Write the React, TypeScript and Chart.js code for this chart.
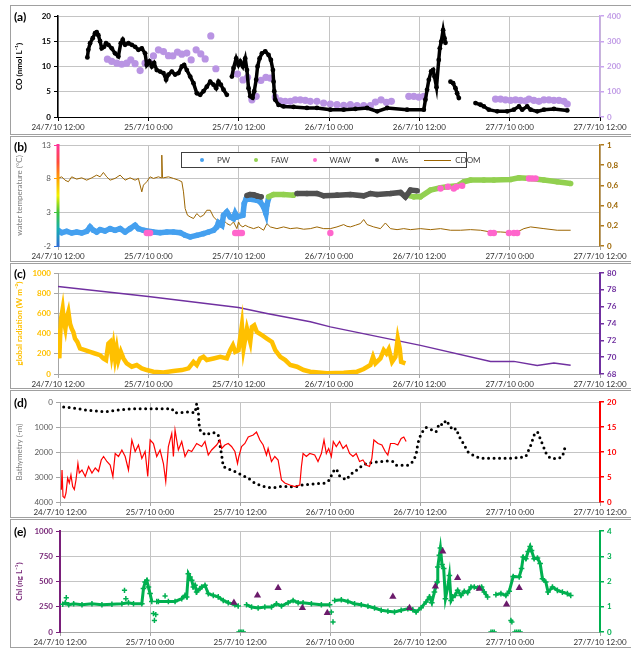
import React, { useEffect, useRef } from "react";
import { Chart, registerables } from "chart.js";
Chart.register(...registerables);

const FONT = "Lato, 'Open Sans', 'Liberation Sans', sans-serif";
const GRID = "#c4c4c4";

// ---------- shared x axis ----------
const tickHours = [0, 12, 24, 36, 48, 60, 72];
const tickLabels = ["24/7/10 12:00", "25/7/10 0:00", "25/7/10 12:00", "26/7/10 0:00", "26/7/10 12:00", "27/7/10 0:00", "27/7/10 12:00"];

// ---------- (a) CO ----------
const coTicks = [0, 5, 10, 15, 20];
const coRightTicks = [0, 100, 200, 300, 400];
const coTimes = [3.9, 4.03, 4.26, 4.61, 4.92, 5.14, 5.36, 5.59, 5.81, 6.12, 6.38, 6.69, 7.14, 7.58, 8.02, 8.34, 8.6, 8.91, 9.35, 9.8, 10.24, 10.68, 11.13, 11.57, 11.79, 12.14, 12.46, 12.77, 13.12, 13.57, 14.01, 14.36, 14.67, 15.12, 15.56, 16.0, 16.45, 16.76, 17.11, 17.56, 18.0, 18.44, 18.89, 19.33, 19.77, 20.22, 20.66, 21.01, 21.32, 21.63, 21.99, 22.43, 22.8, 23.1, 23.32, 23.67, 23.98, 24.21, 24.56, 24.87, 25.1, 25.31, 25.54, 25.85, 26.07, 26.33, 26.51, 26.78, 27.09, 27.53, 27.97, 28.28, 28.55, 28.64, 28.73, 28.86, 29.3, 29.96, 31.29, 33.07, 34.4, 36.18, 37.95, 39.5, 41.06, 42.4, 43.73, 46.37, 48.59, 48.81, 49.03, 49.26, 49.57, 49.83, 50.01, 50.28, 50.58, 50.72, 50.9, 51.16, 51.34, 51.47, 51.9, 52.14, 52.49, 52.8, 53.02, 53.25, 54.3, 55.46, 56.13, 56.57, 57.23, 58.34, 59.67, 60.56, 61.23, 61.67, 62.33, 62.78, 63.66, 64.55, 65.88, 67.65];
const coValues = [11.8, 13.3, 14.6, 15.6, 16.6, 16.8, 16.2, 15.0, 13.6, 13.9, 14.6, 14.3, 13.6, 12.6, 12.0, 14.6, 15.3, 14.3, 14.6, 14.3, 13.9, 13.3, 13.6, 12.6, 10.3, 11.0, 10.0, 10.7, 9.3, 9.0, 8.7, 7.4, 8.4, 9.0, 8.4, 8.7, 10.0, 10.3, 9.3, 8.0, 6.7, 4.7, 4.4, 5.1, 6.0, 7.0, 6.4, 5.7, 7.0, 6.4, 5.4, 4.4, null, 8.0, 9.7, 11.6, 10.3, 11.0, 10.0, 11.6, 9.3, 5.7, 4.1, 3.8, 5.1, 7.4, 10.0, 11.6, 12.6, 13.0, 12.3, 11.3, 9.3, 7.0, 5.1, 3.4, 2.4, 2.1, 2.0, 1.8, 1.8, 1.45, 1.45, 1.6, 1.78, 1.12, 1.78, 1.45, 1.45, 3.42, 5.39, 7.37, 9.01, 9.34, 8.03, 5.9, 11.3, 13.6, 14.9, 17.2, 15.6, 14.7, null, 7.0, 6.7, 5.7, 4.7, 3.75, null, 2.76, 2.43, 2.1, 1.45, 1.12, 1.12, 1.45, 2.1, 1.45, 2.1, 1.45, 1.12, 1.45, 1.6, 1.3];
const purpleTimes = [6.57, 7.14, 7.81, 8.47, 9.13, 9.67, 10.24, 10.91, 11.57, 12.14, 12.68, 13.34, 14.01, 14.67, 15.25, 15.87, 16.45, 17.11, 17.69, 18.35, 18.97, 19.55, 20.3, 20.97, 23.85, 24.56, 25.18, 25.76, 26.33, 26.95, 27.62, 28.2, 28.86, 29.53, 30.19, 30.86, 31.52, 32.19, 32.85, 33.52, 34.4, 35.29, 36.18, 37.06, 37.95, 38.84, 39.72, 40.61, 41.5, 42.16, 42.92, 43.63, 44.29, 46.6, 47.27, 47.93, 48.59, 58.12, 58.79, 59.45, 60.12, 60.78, 61.45, 62.11, 62.56, 63.22, 63.89, 64.55, 65.22, 65.88, 66.55, 67.21, 67.65];
const purpleValues = [229, 220, 213, 209, 213, 226, 211, 184, 213, 216, 242, 266, 259, 243, 242, 257, 249, 253, 226, 266, 250, 230, 321, 191, 170, 147, 157, 68, 82, 145, 157, 154, 79, 64, 62, 62, 68, 68, 66, 62, 62, 55, 51, 49, 46, 49, 45, 45, 45, 59, 68, 58, 62, 82, 82, 79, 82, 71, 71, 68, 66, 68, 66, 64, 71, 66, 62, 68, 68, 66, 66, 62, 51];

// ---------- (b) water temperature ----------
const tempTicks = [-2, 3, 8, 13];
const cdomTicks = [0, 0.2, 0.4, 0.6, 0.8, 1];
const pwTimes = [0.0, 0.49, 1.15, 1.82, 2.48, 3.15, 3.81, 4.26, 4.7, 5.14, 5.59, 6.25, 6.92, 7.58, 8.25, 8.91, 9.58, 10.24, 10.68, 11.35, 12.68, 13.57, 14.45, 15.34, 16.23, 16.89, 17.56, 18.44, 19.33, 19.99, 20.66, 21.1, 21.32, 21.77, 21.99, 22.43, 22.87, 23.32, 23.54, 23.76, 24.56, 24.74, 25.01, 26.42, 26.87, 27.31, 27.62, 27.75, 27.97];
const pwValues = [0.33, -0.02, 0.18, -0.07, 0.08, -0.07, 0.18, 0.83, 0.33, 0.08, 0.43, 0.23, 0.58, 0.33, 0.58, 0.08, 0.58, 1.08, 0.58, 0.33, 0.08, -0.02, 0.08, 0.08, -0.02, -0.41, -0.66, -0.41, -0.16, 0.08, 0.33, 0.83, 1.47, 1.08, 2.57, 3.06, 2.32, 2.07, 2.82, 2.32, 2.57, 4.31, 5.05, 4.8, 4.55, 3.81, 2.82, 4.06, 5.05];
const awTimes = [25.1, 25.5, 26.0, 26.5, 27.0, 29.0, 31.75, 33.07, 34.4, 35.29, 37.06, 38.84, 40.61, 41.5, 42.38, 44.16, 45.49, 46.15, 46.82, 47.71];
const awValues = [5.5, 5.65, 5.6, 5.4, 5.3, null, 5.8, 5.8, 5.8, 5.45, 5.55, 5.65, 5.45, 5.8, 5.65, 5.8, 5.95, 5.3, 6.3, 6.2];
const fawTimes = [27.97, 28.64, 29.96, 31.29, 31.5, 46.37, 47.26, 48.15, 49.48, 50.81, 51.7, 53.03, 53.91, 54.8, 56.57, 57.9, 60.12, 61.23, 62.78, 64.55, 66.32, 68.1];
const fawValues = [5.3, 5.65, 5.65, 5.55, null, 5.55, 5.3, 5.3, 6.3, 6.64, 6.79, 6.94, 7.54, 7.8, 7.8, 7.8, 7.88, 8.13, 8.03, 7.8, 7.54, 7.29];
const wawTimes = [11.79, 12.01, 12.24, 23.54, 23.76, 23.98, 24.21, 24.43, 36.18, 50.81, 51.79, 52.58, 52.94, 53.69, 57.46, 57.9, 59.9, 60.56, 61.0, 62.56, 63.0, 63.44];
const wawValues = [-0.06, -0.06, -0.06, -0.06, -0.06, -0.06, -0.06, -0.06, -0.07, 6.54, 6.79, 6.54, 6.79, 6.94, -0.06, -0.06, -0.06, -0.06, -0.06, 8.03, 8.03, 8.03];
const cdomTimes = [0.0, 0.49, 0.93, 1.38, 1.82, 2.48, 3.15, 3.81, 4.48, 5.14, 5.59, 6.03, 6.47, 6.92, 7.58, 8.25, 8.91, 9.58, 10.24, 10.68, 11.13, 11.35, 11.79, 12.24, 12.68, 13.34, 13.7, 13.79, 13.88, 14.01, 14.67, 15.34, 16.0, 16.45, 16.67, 16.89, 17.2, 17.56, 18.0, 18.44, 18.89, 19.33, 19.77, 20.22, 20.66, 21.1, 21.55, 21.99, 22.43, 22.87, 23.32, 23.76, 23.98, 24.21, 24.56, 24.87, 25.31, 25.98, 26.65, 27.31, 27.75, 28.2, 29.08, 29.97, 30.86, 31.75, 32.63, 33.52, 34.4, 35.29, 36.18, 37.06, 37.95, 38.39, 38.84, 39.5, 40.17, 40.61, 41.06, 41.94, 42.83, 43.49, 44.16, 45.04, 45.93, 46.82, 48.15, 49.48, 50.81, 52.14, 53.47, 54.8, 56.13, 57.46, 58.79, 60.12, 61.0, 61.89, 62.78, 64.55, 66.32, 68.1];
const cdomValues = [0.669, 0.685, 0.652, 0.636, 0.685, 0.662, 0.675, 0.652, 0.675, 0.702, 0.685, 0.728, 0.685, 0.652, 0.669, 0.702, 0.652, 0.675, 0.652, 0.669, 0.536, 0.603, 0.636, 0.685, 0.669, 0.685, 0.675, 0.9, 0.675, 0.675, 0.685, 0.669, 0.652, 0.636, 0.536, 0.371, 0.305, 0.288, 0.272, 0.321, 0.288, 0.305, 0.354, 0.354, 0.288, 0.255, 0.238, 0.255, 0.222, 0.205, 0.238, 0.172, 0.238, 0.205, 0.189, 0.205, 0.189, 0.172, 0.189, 0.156, 0.222, 0.189, 0.172, 0.189, 0.172, 0.179, 0.166, 0.172, 0.189, 0.172, 0.172, 0.189, 0.212, 0.195, 0.189, 0.205, 0.222, 0.262, 0.212, 0.189, 0.172, 0.228, 0.172, 0.162, 0.172, 0.162, 0.172, 0.162, 0.172, 0.156, 0.156, 0.162, 0.156, 0.139, 0.139, 0.132, 0.139, 0.172, 0.189, 0.172, 0.156, 0.156];

// ---------- (c) global radiation ----------
const radTicks = [0, 200, 400, 600, 800, 1000];
const latTicks = [68, 70, 72, 74, 76, 78, 80];
const radTimes = [0.04, 0.18, 0.27, 0.4, 0.62, 0.8, 0.98, 1.15, 1.38, 1.6, 1.82, 2.04, 2.26, 2.57, 2.93, 3.6, 4.26, 4.92, 5.59, 6.03, 6.38, 6.69, 6.92, 7.14, 7.36, 7.58, 7.8, 8.02, 8.34, 8.69, 9.13, 9.8, 10.46, 11.13, 11.79, 12.68, 14.01, 15.34, 16.45, 17.34, 18.0, 18.44, 18.89, 19.33, 19.77, 20.66, 21.55, 22.43, 22.87, 23.23, 23.54, 23.98, 24.43, 24.65, 25.1, 25.54, 25.76, 26.07, 26.42, 27.09, 27.75, 28.42, 28.86, 29.53, 30.19, 30.86, 31.75, 32.63, 33.52, 35.73, 37.95, 39.72, 40.61, 41.5, 41.85, 42.16, 42.83, 43.27, 43.63, 43.94, 44.38, 44.82, 45.13, 45.4, 45.58, 46.15];
const radValues = [449, 154, 351, 548, 646, 515, 449, 548, 613, 498, 449, 416, 351, 318, 252, 236, 220, 203, 187, 154, 138, 302, 318, 187, 285, 154, 252, 138, 220, 154, 105, 72, 89, 56, 39, 23, 16, 30, 39, 56, 121, 89, 154, 170, 138, 154, 170, 154, 236, 285, 220, 236, 482, 252, 449, 318, 466, 482, 416, 384, 351, 318, 236, 170, 138, 89, 72, 39, 23, 7, 13, 23, 49, 89, 170, 105, 154, 236, 203, 246, 121, 170, 351, 252, 121, 105];
const latTimes = [0, 12.0, 23.98, 27.75, 33.52, 36.18, 48.15, 57.46, 60.56, 63.66, 65.88, 68.1];
const latValues = [78.4, 77.2, 75.9, 75.2, 74.2, 73.6, 71.4, 69.5, 69.5, 69.0, 69.3, 69.05];

// ---------- (d) bathymetry ----------
const bathyTicks = [0, 1000, 2000, 3000, 4000];
const redTicks = [0, 5, 10, 15, 20];
const bathyTimes = [0.49, 1.38, 2.49, 3.6, 4.7, 6.03, 7.36, 8.69, 10.02, 11.79, 13.57, 14.9, 15.34, 16.23, 17.11, 18.0, 18.22, 18.44, 18.53, 18.75, 19.11, 19.55, 19.99, 20.66, 21.1, 21.55, 21.77, 22.43, 23.32, 24.21, 25.1, 25.98, 26.87, 27.75, 28.64, 29.53, 30.42, 31.3, 32.19, 33.52, 34.4, 35.29, 35.95, 36.4, 36.84, 37.28, 37.73, 38.17, 38.61, 39.06, 39.72, 40.39, 41.05, 41.94, 42.83, 43.71, 44.38, 44.82, 45.49, 46.38, 47.04, 47.48, 47.71, 48.15, 48.81, 49.48, 50.14, 50.58, 51.03, 51.47, 51.92, 52.36, 52.8, 53.25, 53.91, 54.35, 55.24, 56.13, 57.01, 58.34, 59.67, 61.0, 62.11, 62.78, 63.22, 63.66, 64.11, 64.55, 64.91, 65.44, 66.32, 66.99, 67.3, 67.65];
const bathyValues = [199, 225, 265, 331, 358, 397, 331, 291, 265, 265, 265, 265, 437, 424, 397, 437, 66, 331, 861, 1192, 1258, 1325, 1232, 1232, 1325, 2119, 2583, 2675, 2781, 2914, 3046, 3245, 3351, 3417, 3417, 3377, 3377, 3400, 3325, 3285, 3258, 3245, 3113, 2781, 2675, 2954, 3046, 3113, 2954, 2821, 2689, 2517, 2450, 2411, 2384, 2358, 2384, 2530, 2530, 2530, 2384, 2119, 1656, 1258, 1020, 1099, 1192, 861, 927, 728, 927, 1126, 1060, 1391, 1722, 1987, 2159, 2252, 2252, 2252, 2252, 2230, 2185, 1722, 1325, 1192, 1523, 1854, 2119, 2252, 2265, 2185, 1854, 1788];
const redTimes = [0.18, 0.27, 0.4, 0.62, 0.8, 1.02, 1.24, 1.46, 1.69, 1.91, 2.13, 2.39, 2.57, 2.93, 3.37, 3.81, 4.26, 4.7, 5.14, 5.5, 5.81, 6.25, 6.69, 7.05, 7.36, 7.8, 8.25, 8.69, 9.13, 9.58, 10.02, 10.46, 10.91, 11.35, 11.7, 12.02, 12.46, 12.9, 13.34, 13.79, 14.1, 14.45, 14.9, 15.12, 15.34, 15.78, 16.23, 16.67, 17.11, 17.56, 18.22, 18.89, 19.33, 19.77, 20.22, 20.88, 21.32, 21.55, 21.99, 22.43, 22.87, 23.32, 23.67, 23.85, 24.21, 24.65, 25.1, 25.76, 26.2, 26.65, 27.09, 27.53, 27.75, 28.2, 28.64, 29.08, 29.53, 29.97, 30.64, 31.3, 31.97, 32.19, 32.41, 32.85, 33.3, 33.96, 34.4, 34.85, 35.2, 35.51, 35.82, 36.18, 36.44, 36.84, 37.28, 37.73, 38.17, 38.61, 39.06, 39.5, 39.94, 40.39, 40.83, 41.27, 41.58, 41.85, 42.4, 42.92, 43.36, 43.71, 44.07, 44.6, 45.04, 45.49, 45.84, 46.15];
const redValues = [2.45, 6.4, 1.1, 0.8, 1.8, 4.8, 3.8, 5.4, 3.1, 2.5, 4.4, 7.7, 5.8, 6.4, 5.1, 7.1, 5.8, 6.8, 6.1, 8.4, 9.1, 8.1, 7.4, 5.1, 9.7, 9.1, 10.4, 9.1, 6.4, 12.4, 10.1, 11.4, 8.7, 10.1, 5.1, 12.4, 11.7, 9.1, 10.4, 7.7, 4.1, 11.1, 13.7, 9.1, 14.4, 10.4, 12.1, 9.1, 10.4, 10.1, 11.7, 11.1, 12.1, 9.4, 10.4, 11.4, 12.4, 10.7, 11.4, 11.7, 11.1, 10.1, 7.7, 9.1, 11.1, 11.7, 13.0, 13.4, 14.0, 12.4, 11.4, 9.4, 10.7, 8.1, 9.1, 8.4, 4.4, 3.8, 3.4, 3.1, 3.4, 7.1, 9.7, 9.1, 9.7, 9.4, 8.1, 9.7, 12.4, 9.7, 10.7, 9.1, 12.1, 11.1, 12.1, 10.7, 11.4, 9.7, 9.1, 9.7, 8.1, 8.4, 7.4, 7.1, 8.7, 12.4, 11.7, 11.4, 10.1, 9.4, 11.7, 11.7, 11.4, 12.7, 13.0, 12.1];

// ---------- (e) Chl ----------
const chlTicks = [0, 250, 500, 750, 1000];
const greenTicks = [0, 1, 2, 3, 4];
const triTimes = [23.19, 26.33, 29.08, 32.32, 35.64, 44.38, 46.6, 50.05, 51.03, 53.02, 55.9, 59.54, 61.23];
const triValues = [290, 363, 436, 238, 188, 350, 238, 452, 799, 535, 429, 274, 436];
const greenTimes = [0.36, 0.71, 1.16, 1.82, 2.93, 4.26, 5.59, 6.92, 8.25, 9.13, 9.8, 10.91, 11.13, 11.35, 11.57, 11.79, 12.01, 12.24, 12.6, 12.9, 13.12, 14.45, 15.34, 16.23, 16.67, 16.89, 17.11, 17.34, 17.56, 17.78, 18.0, 18.22, 18.67, 18.89, 19.33, 19.77, 20.44, 21.1, 21.77, 22.43, 23.32, 23.76, 24.3, 24.87, 25.54, 26.42, 27.31, 28.2, 28.86, 29.53, 30.42, 31.08, 31.75, 32.41, 33.52, 34.85, 35.95, 36.3, 36.62, 37.51, 38.39, 39.28, 40.17, 41.06, 41.94, 42.83, 43.72, 44.6, 45.49, 46.38, 47.04, 47.48, 48.15, 48.81, 49.26, 49.57, 49.92, 50.28, 50.37, 50.58, 50.72, 50.94, 51.16, 51.39, 51.7, 51.92, 52.14, 52.36, 52.67, 53.02, 53.47, 53.91, 54.35, 54.8, 55.24, 55.68, 56.21, 56.57, 57.01, 57.6, 58.12, 58.79, 59.45, 59.9, 60.43, 61.23, 61.54, 61.76, 62.11, 62.42, 62.69, 62.87, 63.22, 63.66, 64.02, 64.33, 64.77, 65.08, 65.66, 66.32, 66.99, 67.65, 68.1];
const greenValues = [1.1, 1.16, 1.08, 1.12, 1.08, 1.12, 1.08, 1.1, 1.12, 1.16, 1.12, 1.12, 1.72, 1.98, 2.05, 1.78, 1.52, 1.21, null, 1.21, 1.21, 1.21, 1.21, 1.32, 1.45, 1.39, 2.31, 2.18, 2.05, 1.78, 1.85, 1.58, 1.72, 1.78, 1.85, 1.52, 1.45, 1.39, 1.25, 1.16, 1.08, 1.03, null, 1.08, 0.99, 0.95, 0.99, 0.99, 1.12, 1.03, 1.16, 1.25, 1.16, 1.16, 1.12, 1.08, 1.08, null, 1.25, 1.28, 1.21, 1.12, 1.08, 1.02, 0.95, 0.86, 0.82, 0.79, 0.86, 0.92, 0.88, 0.79, 0.96, 1.19, 1.39, 1.16, 1.58, 1.98, 2.57, 3.04, 3.33, 2.67, 2.51, 1.32, 1.78, 2.24, 1.25, 1.39, 1.45, 1.65, 1.45, 1.61, 1.56, 1.78, 1.78, 1.74, 1.78, 1.58, 1.39, null, 1.48, 1.52, 1.45, 1.61, 2.2, 2.18, 2.51, 2.97, 2.9, 3.19, 3.39, 3.23, 2.9, 2.93, 2.71, 2.11, 1.98, 1.58, 1.78, 1.65, 1.58, 1.52, 1.45];
const greenOutTimes = [0.84, 8.6, 8.78, 12.46, 12.59, 12.77, 14.01, 36.18, 36.4, 60.12, 60.25, 23.85, 24.05, 24.25, 24.45, 57.46, 57.68, 57.9, 60.65, 60.9, 61.15, 61.36];
const greenOutValues = [1.36, 1.65, 1.32, 0.73, 0.46, 0.69, 1.43, 0.79, 0.4, 0.46, 0.4, 0, 0, 0, 0, 0, 0, 0, 0, 0, 0, 0];

// ---------- helpers ----------
const pts = (t: number[], v: (number | null)[]) => t.map((x, i) => ({ x, y: v[i] }));

function xAxis(h: number, axisColor: string) {
  return {
    type: "linear",
    min: 0,
    max: 72,
    afterBuildTicks: (s: any) => { s.ticks = tickHours.map((v) => ({ value: v })); },
    ticks: {
      maxRotation: 0,
      autoSkip: false,
      padding: 2,
      color: "#333",
      font: { family: FONT, size: 8 },
      callback: (v: number) => { const i = tickHours.indexOf(v); return i >= 0 ? tickLabels[i] : ""; },
    },
    grid: { color: GRID, lineWidth: 1, tickLength: 4, tickColor: axisColor },
    border: { color: axisColor, width: 1 },
    afterFit: (s: any) => { s.height = h; },
  };
}

function yAxis(o: any) {
  const left = o.pos === "left";
  return {
    type: "linear",
    position: o.pos,
    min: o.min,
    max: o.max,
    reverse: !!o.reverse,
    afterBuildTicks: (s: any) => { s.ticks = o.ticks.map((v: number) => ({ value: v })); },
    ticks: {
      color: o.labelColor,
      padding: 3,
      font: { family: FONT, size: 8, weight: o.bold ? "bold" : "normal" },
      callback: o.fmt || ((v: number) => String(v)),
    },
    grid: left
      ? { color: GRID, lineWidth: 1, tickLength: 4, tickColor: o.tickColor || o.axisColor }
      : { drawOnChartArea: false, tickLength: 4, tickColor: o.axisColor, lineWidth: 1.5 },
    border: { color: o.axisColor, width: o.axisWidth || 1 },
    title: o.title
      ? { display: true, text: o.title, color: o.titleColor, font: { family: FONT, size: 8, weight: o.titleBold ? "bold" : "normal" }, padding: { top: 5, bottom: 0 } }
      : { display: false },
    afterFit: (s: any) => { s.width = o.width; },
  };
}

const rainbowAxis = {
  id: "rainbowAxis",
  afterDraw(chart: any) {
    const { ctx, chartArea } = chart;
    const { left, top, bottom } = chartArea;
    const g = ctx.createLinearGradient(0, bottom, 0, top);
    g.addColorStop(0, "#2f6fd6");
    g.addColorStop(0.17, "#16aeb0");
    g.addColorStop(0.33, "#3cc23c");
    g.addColorStop(0.5, "#f2f200");
    g.addColorStop(0.67, "#ffa000");
    g.addColorStop(0.83, "#ff4a3a");
    g.addColorStop(1, "#ff3399");
    ctx.save();
    ctx.strokeStyle = g;
    ctx.lineWidth = 3;
    ctx.beginPath();
    ctx.moveTo(left, bottom + 1);
    ctx.lineTo(left, top - 1);
    ctx.stroke();
    ctx.restore();
  },
};

const panels = [
  { key: "a", top: 5, height: 130, padTop: 11, xh: 18, leftW: 48 },
  { key: "b", top: 136, height: 126, padTop: 9, xh: 16, leftW: 48 },
  { key: "c", top: 263, height: 126, padTop: 10, xh: 15, leftW: 48 },
  { key: "d", top: 390, height: 128, padTop: 12, xh: 16, leftW: 50 },
  { key: "e", top: 519, height: 129, padTop: 12, xh: 16, leftW: 50 },
];
const CANVAS_W = 630;
const RIGHT_W = 40;

function baseOptions(p: any, scales: any) {
  return {
    animation: false,
    responsive: false,
    events: [],
    layout: { padding: { top: p.padTop, left: 0, right: 0, bottom: 0 } },
    plugins: { legend: { display: false }, tooltip: { enabled: false } },
    scales,
  };
}

function buildConfigs(): any[] {
  const [pa, pb, pc, pd, pe] = panels;
  const tempTickColor = (c: any) => {
    const v = c.tick ? c.tick.value : 0;
    return v === 13 ? "#ff3399" : v === 8 ? "#ffa000" : v === 3 ? "#3cc23c" : "#2f6fd6";
  };
  return [
    {
      type: "scatter",
      data: {
        datasets: [
          { data: pts(coTimes, coValues), showLine: true, borderColor: "#000", borderWidth: 3.5, pointRadius: 2.4, pointBackgroundColor: "#000", pointBorderWidth: 0, yAxisID: "y" },
          { data: pts(purpleTimes, purpleValues), showLine: false, pointRadius: 3.6, pointBackgroundColor: "#b994e3", pointBorderWidth: 0, yAxisID: "y1" },
        ],
      },
      options: baseOptions(pa, {
        x: xAxis(pa.xh, "#000"),
        y: yAxis({ pos: "left", min: 0, max: 20, ticks: coTicks, axisColor: "#000", axisWidth: 1.5, labelColor: "#000", bold: true, width: pa.leftW, title: "CO (nmol L\u207B\u00B9)", titleColor: "#000", titleBold: true }),
        y1: yAxis({ pos: "right", min: 0, max: 400, ticks: coRightTicks, axisColor: "#c9a3f0", axisWidth: 1.5, labelColor: "#c09be6", bold: true, width: RIGHT_W }),
      }),
    },
    {
      type: "scatter",
      data: {
        datasets: [
          { data: pts(wawTimes, wawValues), showLine: false, pointRadius: 3.2, pointBackgroundColor: "#ff66cc", pointBorderWidth: 0, yAxisID: "y" },
          { data: pts(awTimes, awValues), showLine: true, borderColor: "#505050", borderWidth: 5.5, pointRadius: 2.8, pointBackgroundColor: "#505050", pointBorderWidth: 0, yAxisID: "y" },
          { data: pts(fawTimes, fawValues), showLine: true, borderColor: "#92d050", borderWidth: 5.5, pointRadius: 2.8, pointBackgroundColor: "#92d050", pointBorderWidth: 0, yAxisID: "y" },
          { data: pts(pwTimes, pwValues), showLine: true, borderColor: "#45a0ef", borderWidth: 5.5, pointRadius: 2.8, pointBackgroundColor: "#45a0ef", pointBorderWidth: 0, yAxisID: "y" },
          { data: pts(cdomTimes, cdomValues), showLine: true, borderColor: "#9c6500", borderWidth: 1, pointRadius: 0, yAxisID: "y1" },
        ],
      },
      options: baseOptions(pb, {
        x: xAxis(pb.xh, "#a6a6a6"),
        y: yAxis({ pos: "left", min: -2, max: 13, ticks: tempTicks, axisColor: "rgba(0,0,0,0)", tickColor: tempTickColor, labelColor: "#595959", bold: false, width: pb.leftW, title: "water temperature (\u00B0C)", titleColor: "#7f7f7f", titleBold: false }),
        y1: yAxis({ pos: "right", min: 0, max: 1, ticks: cdomTicks, axisColor: "#b07a1a", axisWidth: 1.5, labelColor: "#9c6500", bold: true, width: RIGHT_W, fmt: (v: number) => (v === 0 || v === 1 ? String(v) : v.toFixed(1).replace(".", ",")) }),
      }),
      plugins: [rainbowAxis],
    },
    {
      type: "scatter",
      data: {
        datasets: [
          { data: pts(radTimes, radValues), showLine: true, borderColor: "#ffc000", borderWidth: 4.5, pointRadius: 0, yAxisID: "y" },
          { data: pts(latTimes, latValues), showLine: true, borderColor: "#7030a0", borderWidth: 1.5, pointRadius: 0, yAxisID: "y1" },
        ],
      },
      options: baseOptions(pc, {
        x: xAxis(pc.xh, "#a6a6a6"),
        y: yAxis({ pos: "left", min: 0, max: 1000, ticks: radTicks, axisColor: "#a6a6a6", labelColor: "#ffc000", bold: true, width: pc.leftW, title: "global radiation (W m\u207B\u00B2)", titleColor: "#ffc000", titleBold: true }),
        y1: yAxis({ pos: "right", min: 68, max: 80, ticks: latTicks, axisColor: "#7030a0", axisWidth: 2, labelColor: "#7030a0", bold: true, width: RIGHT_W }),
      }),
    },
    {
      type: "scatter",
      data: {
        datasets: [
          { data: pts(redTimes, redValues), showLine: true, borderColor: "#ff0000", borderWidth: 1.2, pointRadius: 0, yAxisID: "y1" },
          { data: pts(bathyTimes, bathyValues), showLine: true, borderColor: "#000", borderWidth: 3, borderDash: [0, 5.5], borderCapStyle: "round", pointRadius: 0, yAxisID: "y" },
        ],
      },
      options: baseOptions(pd, {
        x: xAxis(pd.xh, "#a6a6a6"),
        y: yAxis({ pos: "left", min: 0, max: 4000, reverse: true, ticks: bathyTicks, axisColor: "#a6a6a6", labelColor: "#595959", bold: false, width: pd.leftW, title: "Bathymetry (-m)", titleColor: "#7f7f7f", titleBold: false }),
        y1: yAxis({ pos: "right", min: 0, max: 20, ticks: redTicks, axisColor: "#ff0000", axisWidth: 2, labelColor: "#ff0000", bold: true, width: RIGHT_W }),
      }),
    },
    {
      type: "scatter",
      data: {
        datasets: [
          { data: pts(triTimes, triValues), showLine: false, pointStyle: "triangle", pointRadius: 4.2, pointBackgroundColor: "#6b1b6b", pointBorderColor: "#6b1b6b", pointBorderWidth: 0, yAxisID: "y" },
          { data: pts(greenOutTimes, greenOutValues), showLine: false, pointStyle: "cross", pointRadius: 2.6, pointBorderColor: "#00b050", pointBorderWidth: 1.5, yAxisID: "y1" },
          { data: pts(greenTimes, greenValues), showLine: true, borderColor: "#00b050", borderWidth: 3, pointStyle: "cross", pointRadius: 2.8, pointBorderColor: "#00b050", pointBorderWidth: 1.5, yAxisID: "y1" },
        ],
      },
      options: baseOptions(pe, {
        x: xAxis(pe.xh, "#a6a6a6"),
        y: yAxis({ pos: "left", min: 0, max: 1000, ticks: chlTicks, axisColor: "#7a1f7a", axisWidth: 2, labelColor: "#7a2a7a", bold: true, width: pe.leftW, title: "Chl (ng L\u207B\u00B9)", titleColor: "#7a2a7a", titleBold: true }),
        y1: yAxis({ pos: "right", min: 0, max: 4, ticks: greenTicks, axisColor: "#00b050", axisWidth: 2, labelColor: "#00b050", bold: true, width: RIGHT_W }),
      }),
    },
  ];
}

const panelLabelTops = [10, 140, 267, 396, 525];
const legendItems = [
  { label: "PW", color: "#45a0ef", kind: "dot" },
  { label: "FAW", color: "#92d050", kind: "dot" },
  { label: "WAW", color: "#ff66cc", kind: "dot" },
  { label: "AWs", color: "#505050", kind: "dot" },
  { label: "CDOM", color: "#9c6500", kind: "line" },
];

export default function App() {
  const refs = useRef<(HTMLCanvasElement | null)[]>([]);
  useEffect(() => {
    Chart.defaults.font.family = FONT;
    const cfgs = buildConfigs();
    const charts = cfgs.map((cfg, i) => new Chart(refs.current[i] as HTMLCanvasElement, cfg));
    return () => charts.forEach((c) => c.destroy());
  }, []);

  return (
    <div style={{ position: "absolute", left: 0, top: 0, width: 631, height: 648, overflow: "hidden", background: "#fff", fontFamily: FONT }}>
      {panels.map((p) => (
        <div key={"f" + p.key} style={{ position: "absolute", left: 10, top: p.top, width: 640, height: p.height, border: "1px solid #a0a0a0", boxSizing: "border-box" }} />
      ))}
      {panels.map((p, i) => (
        <canvas
          key={"c" + p.key}
          ref={(el) => { refs.current[i] = el; }}
          width={CANVAS_W}
          height={p.height}
          style={{ position: "absolute", left: 10, top: p.top, width: CANVAS_W, height: p.height }}
        />
      ))}
      {panels.map((p, i) => (
        <div key={"l" + p.key} style={{ position: "absolute", left: 14, top: panelLabelTops[i], fontSize: 12, fontWeight: "bold", color: "#000", lineHeight: "14px" }}>
          ({p.key})
        </div>
      ))}
      <div style={{ position: "absolute", left: 181, top: 152, width: 286, height: 16, border: "1px solid #404040", background: "#fff", boxSizing: "border-box", display: "flex", alignItems: "center", fontSize: 8, color: "#404040" }}>
        {legendItems.map((it) => (
          <div key={it.label} style={{ display: "flex", alignItems: "center", marginLeft: it.kind === "line" ? 10 : 18, marginRight: 6 }}>
            {it.kind === "dot" ? (
              <span style={{ display: "inline-block", width: 4, height: 4, borderRadius: 2, background: it.color, marginRight: 13 }} />
            ) : (
              <span style={{ display: "inline-block", width: 27, height: 1, background: it.color, marginRight: 4 }} />
            )}
            <span>{it.label}</span>
          </div>
        ))}
      </div>
    </div>
  );
}
